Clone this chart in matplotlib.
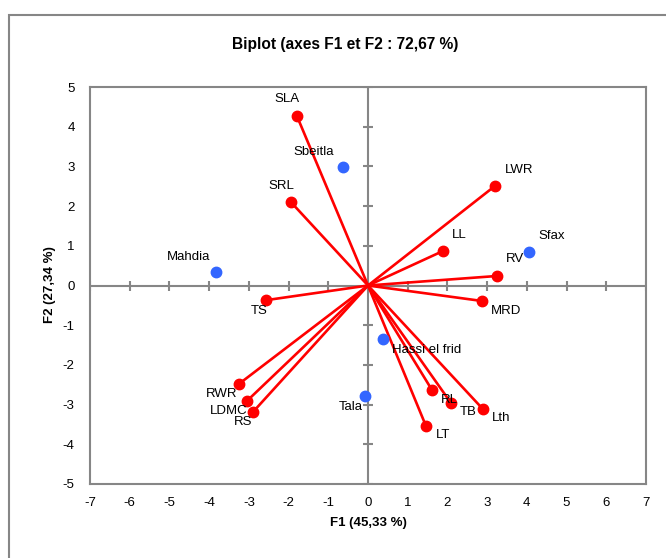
import matplotlib
matplotlib.use('Agg')
import matplotlib.pyplot as plt
from matplotlib.patches import Rectangle

plt.rcParams['font.family'] = ['Liberation Sans', 'DejaVu Sans']
plt.rcParams['axes.unicode_minus'] = False

# variables (red vectors)
var_names = ['SLA', 'SRL', 'LWR', 'LL', 'RV', 'MRD', 'TS', 'RWR', 'LDMC', 'RS', 'RL', 'TB', 'Lth', 'LT']
var_f1 = [-1.79, -1.94, 3.20, 1.89, 3.25, 2.87, -2.57, -3.25, -3.05, -2.90, 1.61, 2.09, 2.89, 1.46]
var_f2 = [4.27, 2.10, 2.51, 0.87, 0.24, -0.39, -0.37, -2.48, -2.91, -3.19, -2.63, -2.96, -3.11, -3.54]

# observations (blue points)
obs_names = ['Sbeitla', 'Mahdia', 'Sfax', 'Hassi el frid', 'Tala']
obs_f1 = [-0.63, -3.83, 4.06, 0.38, -0.08]
obs_f2 = [2.98, 0.34, 0.84, -1.35, -2.78]

xticks = list(range(-7, 8))
yticks = list(range(-5, 6))

# label offsets in pixels (label centre relative to point)
var_off = {'SLA': (-10, 17), 'SRL': (-10, 16), 'LWR': (24, 16), 'LL': (16, 16),
           'RV': (18, 17), 'MRD': (24, -10), 'TS': (-7, -11), 'RWR': (-17, -10),
           'LDMC': (-18, -10), 'RS': (-10, -10), 'RL': (17, -10), 'TB': (17, -9),
           'Lth': (18, -9), 'LT': (17, -9)}
obs_off = {'Sbeitla': (-29, 15), 'Mahdia': (-27, 15), 'Sfax': (22, 16),
           'Hassi el frid': (44, -11), 'Tala': (-14, -11)}

gray = '#868686'
red = '#FF0000'
blue = '#3366FF'

fig = plt.figure(figsize=(6.66, 5.58), dpi=100)
# outer chart border
fig.patches.append(Rectangle((9 / 666, -0.05), 1.1, (558 - 15) / 558 + 0.05,
                             transform=fig.transFigure, fill=False,
                             edgecolor=gray, linewidth=1.5))
ax = fig.add_axes([90 / 666, 74 / 558, 556 / 666, 397 / 558])
ax.set_xlim(-7, 7)
ax.set_ylim(-5, 5)

for s in ax.spines.values():
    s.set_color(gray)
    s.set_linewidth(1.5)

ax.set_xticks(xticks)
ax.set_yticks(yticks)
ax.tick_params(length=0, labelsize=9.5, colors='black')
ax.tick_params(axis='x', pad=9)
ax.tick_params(axis='y', pad=11)

# origin axes with tick marks
ax.axhline(0, color=gray, lw=1.5, zorder=1)
ax.axvline(0, color=gray, lw=1.5, zorder=1)
ax.plot(xticks, [0] * len(xticks), ls='none', marker='|', ms=7, mew=1.5, color=gray, zorder=1)
ax.plot([0] * len(yticks), yticks, ls='none', marker='_', ms=7, mew=1.5, color=gray, zorder=1)

# vectors
for name, x, y in zip(var_names, var_f1, var_f2):
    ax.plot([0, x], [0, y], color=red, lw=1.9, zorder=2)
ax.plot(var_f1, var_f2, 'o', color=red, ms=7.5, zorder=3)
for name, x, y in zip(var_names, var_f1, var_f2):
    ax.annotate(name, (x, y), xytext=var_off[name], textcoords='offset pixels',
                ha='center', va='center', fontsize=9.5, zorder=4)

ax.plot(obs_f1, obs_f2, 'o', color=blue, ms=7.5, zorder=3)
for name, x, y in zip(obs_names, obs_f1, obs_f2):
    ax.annotate(name, (x, y), xytext=obs_off[name], textcoords='offset pixels',
                ha='center', va='center', fontsize=9.5, zorder=4)

fig.text(345 / 666, 1 - 45 / 558, 'Biplot (axes F1 et F2 : 72,67 %)', ha='center',
         va='center', fontsize=11.2, fontweight='bold')
fig.text(368 / 666, 1 - 523 / 558, 'F1 (45,33 %)', ha='center', va='center',
         fontsize=9.5, fontweight='bold')
fig.text(50 / 666, 1 - 285 / 558, 'F2 (27,34 %)', ha='center', va='center',
         fontsize=9.5, fontweight='bold', rotation=90)

fig.savefig('out.png', dpi=100)
